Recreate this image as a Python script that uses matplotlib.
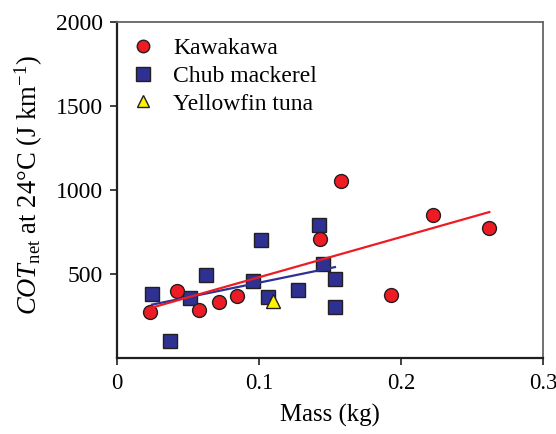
import numpy as np
import matplotlib
matplotlib.use('Agg')
import matplotlib.pyplot as plt

plt.rcParams['font.family'] = ['Liberation Serif', 'DejaVu Serif']
plt.rcParams['mathtext.fontset'] = 'custom'
plt.rcParams['mathtext.rm'] = 'Liberation Serif'
plt.rcParams['mathtext.it'] = 'Liberation Serif:italic'

# Kawakawa
kawa_mass = [0.0232, 0.0425, 0.0575, 0.0716, 0.0843, 0.1432, 0.158, 0.1927, 0.2223, 0.2622]
kawa_cot = [272, 399, 288, 335, 367, 708, 1055, 375, 851, 772]

# Chub mackerel
chub_mass = [0.0246, 0.0373, 0.0512, 0.0627, 0.0956, 0.1012, 0.1063, 0.1277, 0.142, 0.1449, 0.1535, 0.1533]
chub_cot = [379, 101, 355, 496, 456, 702, 365, 403, 792, 558, 470, 304]

# Yellowfin tuna
tuna_mass = [0.1096]
tuna_cot = [338]

xticks = [0, 0.1, 0.2, 0.3]
xticklabels = ['0', '0.1', '0.2', '0.3']
yticks = [500, 1000, 1500, 2000]

red = '#ED1C24'
blue = '#2E3192'
yellow = '#FFF200'
edge = '#231F20'

fig = plt.figure(figsize=(5.56, 4.34), dpi=100)
ax = fig.add_axes([0.2104, 0.1751, 0.7662, 0.7742])

ax.plot(kawa_mass, kawa_cot, 'o', ms=10, mfc=red, mec=edge, mew=1, zorder=4, label='Kawakawa')
ax.plot(chub_mass, chub_cot, 's', ms=10.5, mfc=blue, mec=edge, mew=1, zorder=3, label='Chub mackerel')
ax.plot(tuna_mass, tuna_cot, '^', ms=9.5, mfc=yellow, mec=edge, mew=1, zorder=5, label='Yellowfin tuna')

# regression lines
b, a = np.polyfit(chub_mass, chub_cot, 1)
xs = np.array([min(chub_mass), max(chub_mass)])
ax.plot(xs, a + b * xs, color=blue, lw=1.6, zorder=6)
b, a = np.polyfit(kawa_mass, kawa_cot, 1)
xs = np.array([min(kawa_mass), max(kawa_mass)])
ax.plot(xs, a + b * xs, color=red, lw=1.6, zorder=7)

ax.set_xlim(0, 0.3)
ax.set_ylim(0, 2000)
ax.set_xticks(xticks)
ax.set_xticklabels(xticklabels)
ax.set_yticks(yticks)
ax.tick_params(direction='out', length=5, width=1.2, labelsize=17, color='#231F20')
ax.tick_params(axis='x', pad=6, labelsize=16.3)
ax.tick_params(axis='y', pad=5)

for s in ['left', 'bottom']:
    ax.spines[s].set_linewidth(1.6)
    ax.spines[s].set_color('#231F20')
for s in ['top', 'right']:
    ax.spines[s].set_linewidth(1.3)
    ax.spines[s].set_color('#666666')

ax.set_xlabel('Mass (kg)', fontsize=17.8, labelpad=7)
ax.set_ylabel(r'$\mathit{COT}_{\mathrm{net}}$ at 24°C (J km$^{\mathrm{-1}}$)', fontsize=19.2)
ax.yaxis.set_label_coords(-0.17, 0.514)

leg = ax.legend(loc='upper left', frameon=False, fontsize=17, handletextpad=0.8,
                labelspacing=0.27, borderaxespad=0.25, borderpad=0.4, handlelength=0.92,
                markerscale=0.9)

fig.savefig('out.png', dpi=100)
